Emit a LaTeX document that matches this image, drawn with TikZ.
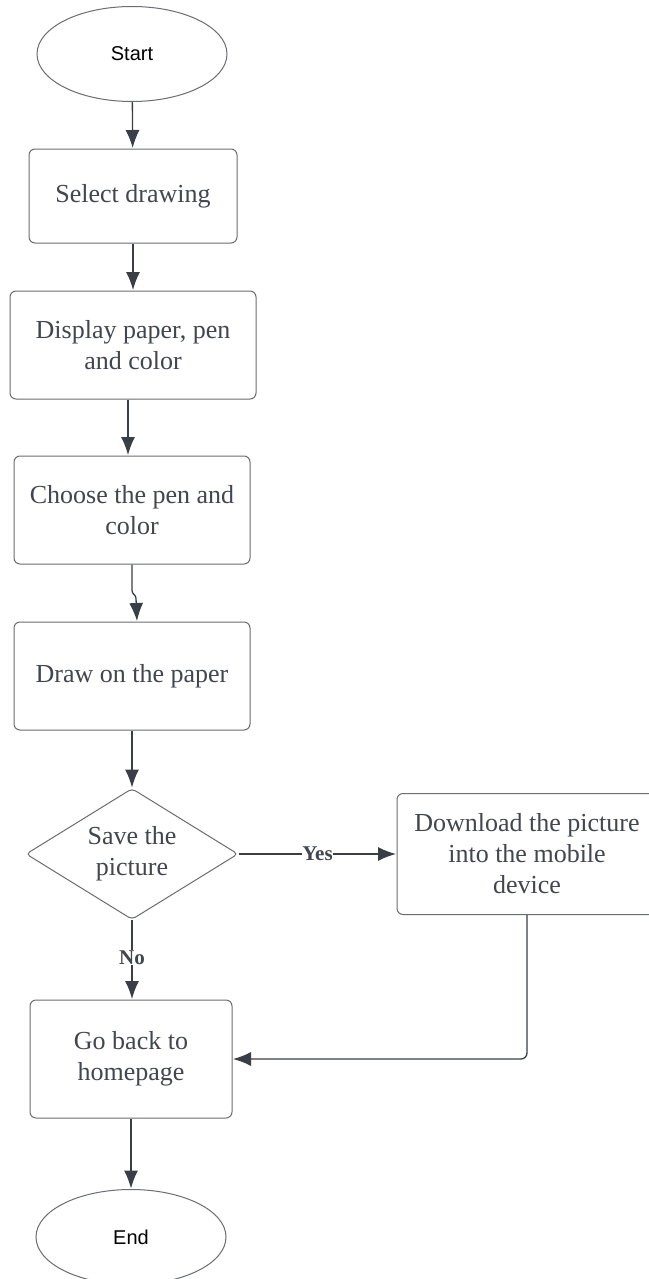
\documentclass[tikz,border=0pt]{standalone}
\usepackage{fontspec}
\setmainfont{Liberation Serif}
\newfontfamily\termfont{Liberation Sans}
\usetikzlibrary{shapes.geometric, arrows.meta}
\definecolor{linecol}{HTML}{3A3F47}
\definecolor{textcol}{HTML}{41464F}
\definecolor{framecol}{HTML}{6A6D72}
\begin{document}
\begin{tikzpicture}[>=latex, x=1pt, y=-1pt,
  every node/.style={text=textcol, font=\fontsize{26}{31}\selectfont},
  term/.style={ellipse, draw=framecol, line width=1pt, minimum width=190pt, minimum height=95pt, inner sep=0pt, font=\termfont\fontsize{20}{24}\selectfont, text=black},
  proc/.style={rectangle, rounded corners=6pt, draw=framecol, line width=1pt, minimum height=108pt, inner sep=0pt, align=center},
  decide/.style={diamond, shape aspect=1.62, rounded corners=4pt, draw=framecol, line width=1pt, minimum width=212pt, minimum height=131pt, inner sep=0pt, align=center},
  flow/.style={->, draw=linecol, line width=1.3pt, shorten >=0.5pt, >={Latex[length=18pt,width=14pt]}},
  tag/.style={font=\bfseries\fontsize{21}{24}\selectfont, fill=white, inner sep=0.5pt}]
 \useasboundingbox (0,0) rectangle (648,1279);
 \fill[white] (0,0) rectangle (648,1279);
 % main column
 \node[term] (start) at (132,54) {Start};
 \node[proc, minimum width=208pt, minimum height=94pt] (select) at (133,196) {Select drawing};
 \node[proc, minimum width=246pt] (display) at (133,345) {Display paper, pen\\and color};
 \node[proc, minimum width=236pt] (choose) at (132,510) {Choose the pen and\\color};
 \node[proc, minimum width=236pt] (paper) at (132,676) {Draw on the paper};
 \node[decide] (save) at (132,854) {Save the\\picture};
 \node[proc, minimum width=260pt, minimum height=121pt] (download) at (527,854) {Download the picture\\into the mobile\\device};
 \node[proc, minimum width=202pt, minimum height=118pt] (home) at (131,1059) {Go back to\\homepage};
 \node[term] (end) at (131,1237) {End};
 % connectors
 \draw[flow] (start) -- (select);
 \draw[flow] (select) -- (display);
 \draw[flow] ([xshift=-5pt]display.south) -- ([xshift=-4pt]choose.north);
 \draw[flow] (choose.south) -- ++(0,26) .. controls +(0,4) and +(0,-4) .. ++(4,8) -- ([xshift=5pt]paper.north);
 \draw[flow] (paper) -- (save);
 \draw[flow] (save.east) -- (download.west) node[tag, pos=0.5] {Yes};
 \draw[flow] (save.south) -- (save.south |- home.north) node[tag, pos=0.47] {No};
 \draw[flow, rounded corners=6pt] (download.south) |- (home.east);
 \draw[flow] (home) -- (end);
\end{tikzpicture}
\end{document}
